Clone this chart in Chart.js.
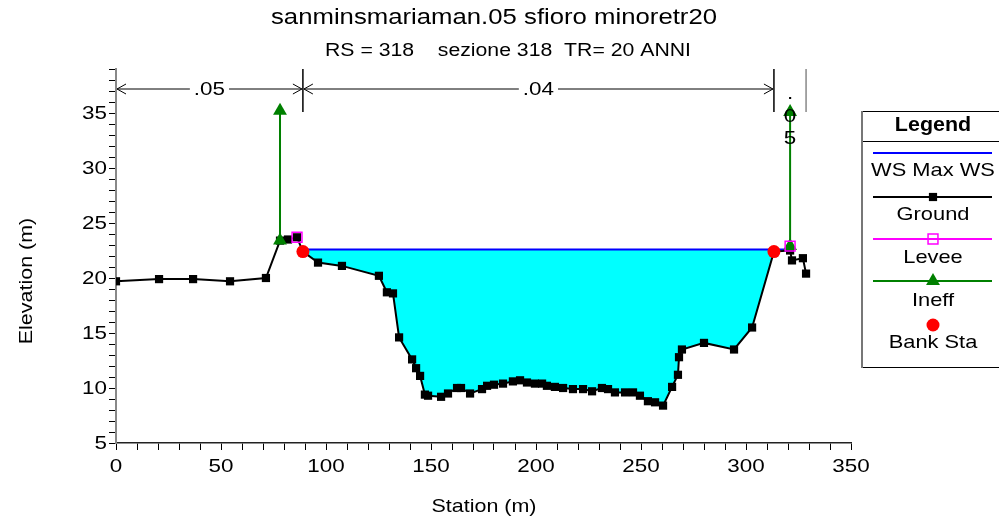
<!DOCTYPE html>
<html>
<head>
<meta charset="utf-8">
<script src="https://cdn.jsdelivr.net/npm/chart.js@4.4.1/dist/chart.umd.min.js"></script>
<style>
  html, body { margin: 0; padding: 0; background: #fff; }
  #wrap { width: 999px; height: 522px; }
</style>
</head>
<body>
<div id="wrap"><canvas id="xsChart"></canvas></div>
<script>
// ---- cross section data ----
const groundSta = [0, 20.5, 36.7, 54.3, 71.4, 78.1, 81.9, 86.2, 89.0, 96.2,
  107.6, 125.2, 129.0, 131.9, 134.8, 141.0, 142.9, 144.8, 147.1, 148.6,
  154.8, 158.1, 162.4, 164.3, 168.6, 174.3, 176.7, 180.0, 184.3, 189.0,
  192.4, 195.7, 199.5, 202.9, 205.2, 209.0, 212.9, 217.6, 222.4, 226.7,
  231.4, 234.3, 237.6, 242.4, 246.2, 249.5, 253.3, 256.7, 260.5, 264.8,
  267.6, 268.1, 269.5, 280.0, 294.3, 302.9, 313.3, 321.0, 321.9, 327.1, 328.6];
const groundElev = [19.7, 19.9, 19.9, 19.7, 20.0, 23.4, 23.5, 23.7, 22.4, 21.4,
  21.1, 20.2, 18.7, 18.6, 14.6, 12.6, 11.8, 11.1, 9.4, 9.3,
  9.2, 9.5, 10.0, 10.0, 9.5, 9.9, 10.2, 10.3, 10.4, 10.6,
  10.7, 10.5, 10.4, 10.4, 10.2, 10.1, 10.0, 9.9, 9.9, 9.7,
  10.0, 9.9, 9.6, 9.6, 9.6, 9.3, 8.8, 8.7, 8.4, 10.1,
  11.2, 12.8, 13.5, 14.1, 13.5, 15.5, 22.4, 22.5, 21.6, 21.8, 20.4];

const bankSta = [89.0, 313.3];
const bankElev = [22.4, 22.4];
const leveeSta = [86.2, 321.0];
const leveeElev = [23.7, 22.9];
const ineffSta = [78.1, 321.0];
const ineffLow = [23.4, 22.9];
const ineffHigh = [35.2, 35.1];
const wsElev = 22.6;

const nValues = ['.05', '.04', '.05'];
const nBreaks = [0, 89.0, 313.3, 328.6];

const xTicksMajor = 50;
const yTicksMajor = 5;

const FONT = "'Liberation Sans', Arial, sans-serif";
const STRETCH = 1.18;   // text in the picture is a bit wider than Arial

// ---- derived series ----
const ground = groundSta.map((s, i) => ({ x: s, y: groundElev[i] }));

// left edge of water: where ground drops below WS before left bank
let leftEdge = groundSta[0];
for (let i = 0; i < ground.length - 1; i++) {
  const a = ground[i], b = ground[i + 1];
  if (a.y >= wsElev && b.y < wsElev && b.x <= bankSta[0]) {
    leftEdge = a.x + (a.y - wsElev) / (a.y - b.y) * (b.x - a.x);
  }
}
const rightEdge = leveeSta[1];

const water = [{ x: leftEdge, y: wsElev }];
ground.forEach(p => { if (p.x > leftEdge && p.x <= rightEdge) water.push(p); });

const wsLine = [{ x: leftEdge, y: wsElev }, { x: rightEdge, y: wsElev }];

const ineff = [];
ineffSta.forEach((s, i) => {
  if (i > 0) ineff.push({ x: (ineffSta[i - 1] + s) / 2, y: null });
  ineff.push({ x: s, y: ineffLow[i] });
  ineff.push({ x: s, y: ineffHigh[i] });
});

const levee = leveeSta.map((s, i) => ({ x: s, y: leveeElev[i] }));
const bank = bankSta.map((s, i) => ({ x: s, y: bankElev[i] }));

// stretched text helper
function txt(ctx, s, x, y, size, opts) {
  opts = opts || {};
  ctx.save();
  ctx.font = (opts.bold ? 'bold ' : '') + size + 'px ' + FONT;
  ctx.textAlign = opts.align || 'center';
  ctx.textBaseline = opts.baseline || 'middle';
  ctx.fillStyle = '#000';
  ctx.translate(x, y);
  if (opts.rotate) ctx.rotate(opts.rotate);
  ctx.scale(opts.stretch || STRETCH, 1);
  ctx.fillText(s, 0, 0);
  ctx.restore();
}

// ---- extra drawing: titles, tick labels, n values, legend ----
const decorPlugin = {
  id: 'decor',
  afterDraw(chart) {
    const ctx = chart.ctx;
    const xs = chart.scales.x;
    const ys = chart.scales.y;
    const area = chart.chartArea;
    ctx.save();

    // titles
    txt(ctx, 'sanminsmariaman.05 sfioro minoretr20', 494, 18, 21.8);
    txt(ctx, 'RS = 318    sezione 318  TR= 20 ANNI', 508, 51, 18);

    // tick labels
    xs.ticks.forEach(t => {
      if (t.value % xTicksMajor === 0) txt(ctx, String(t.value), xs.getPixelForValue(t.value), area.bottom + 24, 19);
    });
    ys.ticks.forEach(t => {
      if (t.value % yTicksMajor === 0) txt(ctx, String(t.value), area.left - 9, ys.getPixelForValue(t.value) + 1, 19, { align: 'right' });
    });

    // axis titles
    txt(ctx, 'Station (m)', 484, 507, 19, { stretch: 1.13 });
    txt(ctx, 'Elevation (m)', 27, 281, 19, { stretch: 1.13, rotate: -Math.PI / 2 });

    // manning n annotations
    const top = area.top;
    const arrowY = top + 20;
    ctx.lineWidth = 1.5;
    nBreaks.forEach((s, i) => {
      if (i === 0) return;
      const px = xs.getPixelForValue(s);
      ctx.strokeStyle = i === nBreaks.length - 1 ? '#888' : '#000';
      ctx.beginPath();
      ctx.moveTo(px, top);
      ctx.lineTo(px, top + 43);
      ctx.stroke();
    });
    ctx.strokeStyle = '#000';
    ctx.lineWidth = 1;
    ctx.font = '19px ' + FONT;
    nValues.forEach((n, i) => {
      const a = xs.getPixelForValue(nBreaks[i]);
      const b = xs.getPixelForValue(nBreaks[i + 1]);
      const mid = (a + b) / 2;
      const tw = ctx.measureText(n).width * STRETCH;
      if (b - a > tw + 30) {
        ctx.beginPath();
        ctx.moveTo(a + 1, arrowY); ctx.lineTo(b - 1, arrowY);
        ctx.moveTo(a + 10, arrowY - 5); ctx.lineTo(a + 1, arrowY); ctx.lineTo(a + 10, arrowY + 5);
        ctx.moveTo(b - 10, arrowY - 5); ctx.lineTo(b - 1, arrowY); ctx.lineTo(b - 10, arrowY + 5);
        ctx.stroke();
        ctx.fillStyle = '#fff';
        ctx.fillRect(mid - tw / 2 - 4, arrowY - 9, tw + 8, 18);
        txt(ctx, n, mid, arrowY + 1, 19);
      } else {
        const base = [top + 30, top + 53, top + 75];
        n.split('').forEach((c, k) => txt(ctx, c, mid, base[k], 19, { baseline: 'alphabetic' }));
      }
    });

    // legend box
    const lx = 862, ly = 111, lr = 999, lb = 367;
    ctx.strokeStyle = '#000';
    ctx.lineWidth = 1;
    ctx.beginPath();
    ctx.moveTo(lx, ly + 0.5); ctx.lineTo(lr, ly + 0.5);
    ctx.moveTo(lx, lb + 0.5); ctx.lineTo(lr, lb + 0.5);
    ctx.moveTo(lx, 141.5); ctx.lineTo(lr, 141.5);
    ctx.stroke();
    ctx.strokeStyle = '#777';
    ctx.lineWidth = 2;
    ctx.beginPath();
    ctx.moveTo(lx, ly); ctx.lineTo(lx, lb + 1);
    ctx.stroke();

    const cx = 933;
    txt(ctx, 'Legend', cx, 126, 19.5, { bold: true, stretch: 1.1 });

    const ds = chart.data.datasets;
    const items = [
      { d: ds[1], lineY: 153, textY: 171 },
      { d: ds[2], lineY: 197, textY: 215 },
      { d: ds[4], lineY: 239, textY: 258 },
      { d: ds[3], lineY: 281, textY: 301 },
      { d: ds[5], lineY: 325, textY: 343 }
    ];
    items.forEach(it => {
      const d = it.d;
      if (d.legendLine) {
        ctx.strokeStyle = d.borderColor;
        ctx.lineWidth = 2;
        ctx.beginPath();
        ctx.moveTo(873, it.lineY); ctx.lineTo(992, it.lineY);
        ctx.stroke();
      }
      if (d.pointRadius > 0) {
        ctx.fillStyle = d.pointBackgroundColor;
        ctx.strokeStyle = d.pointBorderColor;
        ctx.lineWidth = d.pointBorderWidth || 0;
        Chart.helpers.drawPoint(ctx, {
          pointStyle: d.pointStyle,
          radius: d.pointRadius,
          borderWidth: d.pointBorderWidth || 0,
          rotation: 0
        }, cx, it.lineY);
      }
      txt(ctx, d.label, cx, it.textY, 19, { stretch: 1.15 });
    });
    ctx.restore();
  }
};

const ctxEl = document.getElementById('xsChart');

new Chart(ctxEl, {
  type: 'line',
  data: {
    datasets: [
      {
        label: 'water', data: water, order: 6,
        borderWidth: 0, borderColor: 'rgba(0,0,0,0)', pointRadius: 0,
        backgroundColor: '#00ffff', fill: { value: wsElev }
      },
      {
        label: 'WS Max WS', data: wsLine, order: 5, legendLine: true,
        borderColor: '#0000ff', borderWidth: 2, pointRadius: 0, fill: false
      },
      {
        label: 'Ground', data: ground, order: 4, legendLine: true,
        borderColor: '#000', borderWidth: 2, fill: false,
        pointStyle: 'rect', pointRadius: 5.8,
        pointBackgroundColor: '#000', pointBorderColor: '#000', pointBorderWidth: 0
      },
      {
        label: 'Ineff', data: ineff, order: 3, spanGaps: false, legendLine: true,
        borderColor: '#008000', borderWidth: 2, fill: false,
        pointStyle: 'triangle', pointRadius: 8,
        pointBackgroundColor: '#008000', pointBorderColor: '#008000', pointBorderWidth: 0
      },
      {
        label: 'Levee', data: levee, order: 2, showLine: false, fill: false, legendLine: true,
        borderColor: '#ff00ff', borderWidth: 2,
        pointStyle: 'rect', pointRadius: 7,
        pointBackgroundColor: 'rgba(0,0,0,0)', pointBorderColor: '#ff00ff', pointBorderWidth: 1.5
      },
      {
        label: 'Bank Sta', data: bank, order: 1, showLine: false, fill: false,
        borderColor: '#ff0000', borderWidth: 0,
        pointStyle: 'circle', pointRadius: 6.5,
        pointBackgroundColor: '#ff0000', pointBorderColor: '#ff0000', pointBorderWidth: 0
      }
    ]
  },
  options: {
    responsive: true,
    maintainAspectRatio: false,
    animation: false,
    layout: { autoPadding: false, padding: { left: 0, top: 69, right: 148, bottom: 0 } },
    plugins: { legend: { display: false }, tooltip: { enabled: false } },
    elements: { line: { tension: 0 } },
    scales: {
      x: {
        type: 'linear', min: 0, max: 350,
        afterFit(s) { s.height = 79; },
        ticks: { stepSize: 10, autoSkip: false, maxRotation: 0, display: false },
        grid: { drawOnChartArea: false, tickLength: 7, color: '#000' },
        border: { color: '#222', width: 1.5 }
      },
      y: {
        type: 'linear', min: 5, max: 39,
        afterFit(s) { s.width = 116; },
        ticks: { stepSize: 1, autoSkip: false, display: false },
        grid: { drawOnChartArea: false, tickLength: 7, color: '#000' },
        border: { color: '#888', width: 2 }
      }
    }
  },
  plugins: [decorPlugin]
});
</script>
</body>
</html>
